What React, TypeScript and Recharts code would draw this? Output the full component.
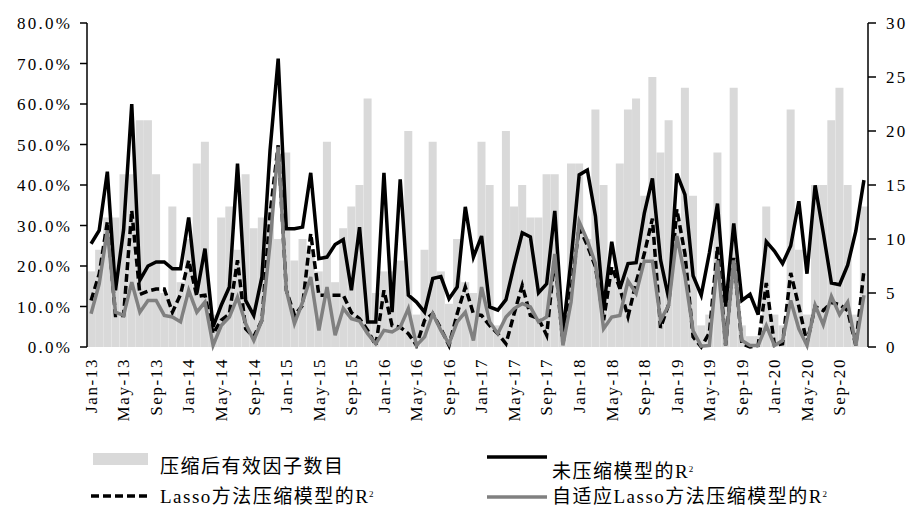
import { Bar, ComposedChart, Line, XAxis, YAxis } from "recharts";

const MONTHS = ["Jan", "Feb", "Mar", "Apr", "May", "Jun", "Jul", "Aug", "Sep", "Oct", "Nov", "Dec"];
const YEARS = ["13", "14", "15", "16", "17", "18", "19", "20"];
const categories = YEARS.flatMap((y) => MONTHS.map((m) => `${m}-${y}`));

// 压缩后有效因子数目 (right axis)
const factorCount = [
  7, 9, 12, 12, 16, 16, 21, 21, 16, 5, 13, 6,
  10, 17, 19, 3, 12, 13, 9, 16, 11, 12, 13, 10,
  18, 8, 10, 9, 7, 19, 6, 11, 13, 15, 23, 5,
  7, 7, 8, 20, 3, 9, 19, 7, 4, 10, 6, 5,
  19, 15, 2, 20, 13, 15, 12, 12, 16, 16, 3, 17,
  17, 10, 22, 15, 7, 17, 22, 23, 14, 25, 18, 21,
  12, 24, 14, 2, 3, 18, 4, 24, 2, 1, 1, 13,
  3, 2, 22, 9, 3, 15, 15, 21, 24, 15, 3, 13,
];

// 未压缩模型的R² (%)
const r2Full = [
  25.5, 28.8, 43.3, 14, 29, 60, 16.5, 20, 21, 21, 19.3, 19.3,
  32, 13.2, 24.3, 5, 10.3, 14.8, 45.3, 11.5, 7.8, 17.3, 48.6, 71.2,
  29.2, 29.2, 29.6, 43, 21.8, 22.2, 25.3, 26.5, 14, 29.6, 6.2, 6.2,
  43, 8.6, 41.4, 12.8, 11.1, 8.6, 16.9, 17.4, 11.9, 14.8, 34.6, 22.2,
  27.4, 9.9, 9.1, 11.7, 20.2, 28.2, 27.2, 13.4, 15.6, 33.6, 3.5, 21.5,
  42.5, 43.7, 32.3, 9.5, 26, 14.4, 20.6, 20.8, 33, 41.6, 21.5, 12,
  42.8, 37.6, 17.6, 12.8, 23.2, 35.4, 10, 30.5, 11.5, 13, 8, 26,
  23.7, 20.6, 25, 36, 18.1, 39.9, 28.2, 15.8, 15.4, 20.2, 28.6, 41.2,
];

// Lasso方法压缩模型的R² (%)
const r2Lasso = [
  11.5, 18, 30.9, 7.8, 7.8, 33.7, 13, 13.8, 14.3, 14.3, 8.6, 13,
  21.4, 12.5, 12.8, 3.3, 6.6, 8.2, 21.4, 4.5, 2.5, 6.6, 32.9, 49.8,
  14, 7.8, 10.3, 28, 12.8, 12.8, 12.8, 12.8, 8.5, 7, 4.1, 0.4,
  14, 5.3, 4.9, 3.3, 0.4, 6.6, 8.2, 4.5, 0.4, 8.2, 14.8, 8.2,
  7.8, 5.3, 3.3, 0.8, 8.2, 15.2, 7.8, 7, 2.9, 22.2, 0.8, 14,
  29.6, 25.1, 19.8, 6.6, 19.8, 14.5, 7.5, 16, 23, 31.7, 4.7, 10.5,
  34, 23, 2.5, 0, 3.5, 24.7, 0.4, 22, 0.8, 0, 0.4, 15.8,
  0.4, 0.8, 18.3, 10, 1, 10, 9, 11, 10.5, 9, 0.4, 18.9,
];

// 自适应Lasso方法压缩模型的R² (%)
const r2Adaptive = [
  8.2, 15.6, 28.8, 8.6, 7.8, 16, 8.6, 11.5, 11.5, 7.8, 7.4, 6.2,
  14, 8.6, 11.1, 0.4, 5.3, 7.4, 12.3, 5.8, 1.6, 6.6, 25.5, 49.4,
  14, 5.8, 11.1, 17.3, 4.1, 14.8, 2.9, 9.5, 7, 6.4, 3.3, 0.8,
  4.1, 3.7, 4.9, 9.5, 0.4, 2.5, 8.2, 4.1, 0.8, 6.2, 8.6, 1.6,
  14.8, 6.2, 3.3, 7.4, 9.5, 10.7, 9.9, 6.2, 7.4, 23, 0.4, 11.1,
  30.9, 26.3, 20.6, 4.5, 7.4, 7.8, 16.3, 13.2, 21.2, 21.2, 6.6, 10.3,
  27.4, 17.5, 4, 0.2, 0.4, 21.4, 0.4, 21.4, 1.6, 0.4, 0.4, 5.3,
  0.4, 1.6, 11.5, 4.5, 0.4, 10.3, 5.5, 12.5, 8, 11.1, 0.4, 12.8,
];

const leftTicks = [0, 10, 20, 30, 40, 50, 60, 70, 80];
const rightTicks = [0, 5, 10, 15, 20, 25, 30];
const boundaryTicks = Array.from({ length: 25 }, (_, i) => i * 4);

const data = categories.map((month, i) => ({
  month,
  idx: i,
  count: factorCount[i],
  full: r2Full[i],
  lasso: r2Lasso[i],
  adaptive: r2Adaptive[i],
}));

const SERIF = "'Liberation Serif', 'Times New Roman', 'Noto Sans CJK SC', serif";
const axisFont = { fontSize: 17, fill: "#000", fontFamily: SERIF, letterSpacing: 2.2 };

const MonthTick = ({ x, y, payload }: any) => (
  <text
    x={x}
    y={y}
    transform={`rotate(-90 ${x} ${y})`}
    textAnchor="end"
    dy="0.34em"
    fontSize={17}
    fontFamily={SERIF}
    letterSpacing={1.6}
    fill="#000"
  >
    {payload.value}
  </text>
);

const R2 = () => (
  <span style={{ letterSpacing: 0 }}>
    R<sup style={{ fontSize: 9, verticalAlign: "top", position: "relative", top: -3, marginLeft: 1 }}>2</sup>
  </span>
);

const legendText = { position: "absolute" as const, fontSize: 19, fontFamily: SERIF, letterSpacing: 1.5, color: "#000", lineHeight: "20px", whiteSpace: "nowrap" as const };

const Legend = () => (
  <>
    <div style={{ position: "absolute", left: 93, top: 453, width: 55, height: 12, background: "#d9d9d9" }} />
    <div style={{ ...legendText, left: 160, top: 457 }}>压缩后有效因子数目</div>
    <svg style={{ position: "absolute", left: 485, top: 450 }} width={64} height={14}>
      <line x1={2} y1={7} x2={62} y2={7} stroke="#000" strokeWidth={3.5} />
    </svg>
    <div style={{ ...legendText, left: 552, top: 462 }}>未压缩模型的<R2 /></div>
    <svg style={{ position: "absolute", left: 88, top: 489 }} width={66} height={14}>
      <line x1={3} y1={7} x2={63} y2={7} stroke="#000" strokeWidth={3.5} strokeDasharray="8 4" />
    </svg>
    <div style={{ ...legendText, left: 160, top: 487 }}>Lasso方法压缩模型的<R2 /></div>
    <svg style={{ position: "absolute", left: 485, top: 490 }} width={64} height={14}>
      <line x1={2} y1={7} x2={62} y2={7} stroke="#808080" strokeWidth={3.5} />
    </svg>
    <div style={{ ...legendText, left: 552, top: 487 }}>自适应Lasso方法压缩模型的<R2 /></div>
  </>
);

export default function App() {
  return (
    <div style={{ position: "absolute", left: 0, top: 0, width: 917, height: 509, background: "#fff" }}>
      <ComposedChart
        width={917}
        height={509}
        data={data}
        margin={{ top: 23, right: 0, bottom: 0, left: 0 }}
        barCategoryGap={0}
        barGap={0}
      >
        <XAxis
          xAxisId="marks"
          type="number"
          dataKey="idx"
          domain={[0, 96]}
          ticks={boundaryTicks}
          allowDataOverflow
          height={0}
          tick={false}
          tickSize={7}
          tickLine={{ stroke: "#000", strokeWidth: 1.5 }}
          axisLine={{ stroke: "#000", strokeWidth: 2 }}
        />
        <XAxis
          dataKey="month"
          height={162}
          interval={3}
          tickLine={false}
          axisLine={false}
          tickSize={0}
          tickMargin={11}
          tick={<MonthTick />}
        />
        <YAxis
          yAxisId="left"
          width={87}
          domain={[0, 80]}
          ticks={leftTicks}
          tickFormatter={(v: number) => `${v.toFixed(1)}%`}
          tick={axisFont}
          tickSize={7}
          tickMargin={8}
          tickLine={{ stroke: "#000", strokeWidth: 1.5 }}
          axisLine={{ stroke: "#000", strokeWidth: 1.5 }}
        />
        <YAxis
          yAxisId="right"
          orientation="right"
          width={49}
          domain={[0, 30]}
          ticks={rightTicks}
          tick={axisFont}
          tickSize={8}
          tickMargin={10}
          tickLine={{ stroke: "#000", strokeWidth: 1.5 }}
          axisLine={{ stroke: "#000", strokeWidth: 1.5 }}
        />
        <Bar yAxisId="right" dataKey="count" fill="#d9d9d9" isAnimationActive={false} />
        <Line yAxisId="left" dataKey="full" stroke="#000" strokeWidth={3.5} dot={false} type="linear" isAnimationActive={false} />
        <Line yAxisId="left" dataKey="lasso" stroke="#000" strokeWidth={3.5} strokeDasharray="8 4" dot={false} type="linear" isAnimationActive={false} />
        <Line yAxisId="left" dataKey="adaptive" stroke="#808080" strokeWidth={3.5} dot={false} type="linear" isAnimationActive={false} />
      </ComposedChart>
      <Legend />
    </div>
  );
}
